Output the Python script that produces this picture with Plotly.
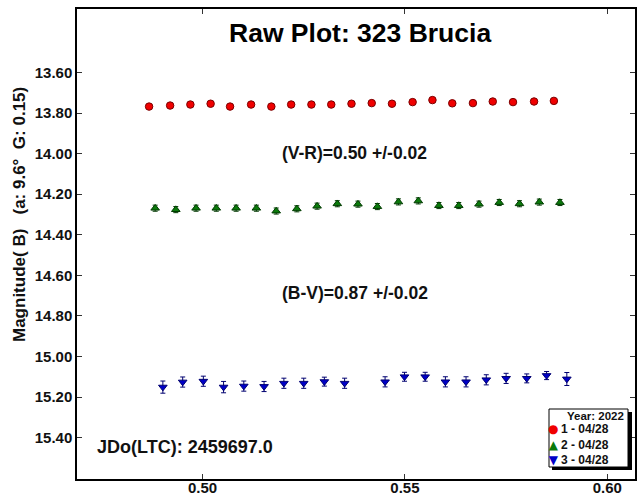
import plotly.graph_objects as go

# Canvas and plot-area geometry (pixels)
W, H = 642, 495
M_L, M_R, M_T, M_B = 77, 7, 9, 16
PW, PH = W - M_L - M_R, H - M_T - M_B


def px_x(x):
    return (x - M_L) / PW


def px_y(y):
    return (H - M_B - y) / PH


FONT = "Liberation Sans"

# Session 1 (red circles)
jd_1 = [0.4868, 0.4920, 0.4970, 0.5020, 0.5068, 0.5120, 0.5170, 0.5219, 0.5269, 0.5318, 0.5368,
        0.5418, 0.5468, 0.5519, 0.5568, 0.5617, 0.5668, 0.5717, 0.5767, 0.5819, 0.5868]
mag_1 = [13.768, 13.763, 13.758, 13.754, 13.768, 13.758, 13.768, 13.758, 13.758, 13.758, 13.754,
         13.751, 13.754, 13.746, 13.736, 13.752, 13.751, 13.743, 13.746, 13.743, 13.740]
err_1 = [0.010, 0.010, 0.010, 0.010, 0.010, 0.010, 0.010, 0.010, 0.010, 0.010, 0.010,
         0.010, 0.010, 0.010, 0.010, 0.010, 0.010, 0.010, 0.010, 0.010, 0.010]

# Session 2 (green up-triangles)
jd_2 = [0.4883, 0.4934, 0.4984, 0.5034, 0.5083, 0.5133, 0.5182, 0.5233, 0.5283, 0.5333, 0.5384,
        0.5432, 0.5484, 0.5533, 0.5584, 0.5633, 0.5683, 0.5733, 0.5783, 0.5832, 0.5883]
mag_2 = [14.269, 14.276, 14.269, 14.269, 14.269, 14.269, 14.283, 14.272, 14.259, 14.247, 14.249,
         14.261, 14.238, 14.233, 14.256, 14.256, 14.249, 14.241, 14.247, 14.239, 14.241]
err_2 = [0.015, 0.015, 0.015, 0.015, 0.015, 0.015, 0.015, 0.015, 0.015, 0.015, 0.015,
         0.015, 0.015, 0.015, 0.015, 0.015, 0.015, 0.015, 0.015, 0.015, 0.015]

# Session 3 (blue down-triangles)
jd_3 = [0.4902, 0.4951, 0.5002, 0.5052, 0.5102, 0.5152, 0.5201, 0.5250, 0.5301, 0.5351,
        0.5451, 0.5499, 0.5550, 0.5600, 0.5651, 0.5701, 0.5750, 0.5801, 0.5850, 0.5900]
mag_3 = [15.151, 15.126, 15.122, 15.151, 15.146, 15.148, 15.132, 15.132, 15.124, 15.132,
         15.125, 15.100, 15.100, 15.125, 15.125, 15.115, 15.108, 15.108, 15.094, 15.111]
err_3 = [0.030, 0.025, 0.025, 0.028, 0.025, 0.025, 0.025, 0.025, 0.022, 0.025,
         0.025, 0.022, 0.022, 0.025, 0.025, 0.025, 0.025, 0.022, 0.020, 0.032]

x_ticks = [0.50, 0.55, 0.60]
y_ticks = [13.60, 13.80, 14.00, 14.20, 14.40, 14.60, 14.80, 15.00, 15.20, 15.40]
x_range = [0.46899, 0.60684]
y_range = [15.604, 13.287]

series_names = ["1 - 04/28", "2 - 04/28", "3 - 04/28"]
series_fill = ["#f00000", "#0b7a0b", "#0000c8"]
series_edge = ["#7a0000", "#003a00", "#000070"]
series_symbol = ["circle", "triangle-up", "triangle-down"]
series_size = [7.5, 7.5, 7.5]
legend_glyph = ["\u25cf", "\u25b2", "\u25bc"]

fig = go.Figure()
for jd, mag, err, name, fc, ec, sym, sz in zip(
        [jd_1, jd_2, jd_3], [mag_1, mag_2, mag_3], [err_1, err_2, err_3],
        series_names, series_fill, series_edge, series_symbol, series_size):
    fig.add_trace(go.Scatter(
        x=jd, y=mag, mode="markers", name=name, showlegend=False,
        marker=dict(symbol=sym, size=sz, color=fc, line=dict(color=ec, width=1)),
        error_y=dict(type="data", array=err, visible=True, color=ec, thickness=1, width=2.5),
    ))

axis_common = dict(
    showgrid=False, zeroline=False, showline=True, linecolor="black", linewidth=1.5,
    mirror="ticks", ticks="inside", ticklen=5, tickwidth=1, tickcolor="#333333",
    automargin=False,
    tickfont=dict(family=FONT, size=15, color="#111111", weight="bold"),
)

fig.update_xaxes(range=x_range, tickvals=x_ticks, ticktext=[f"{v:.2f}" for v in x_ticks],
                 ticklabelstandoff=-6, **axis_common)
fig.update_yaxes(range=y_range, tickvals=y_ticks, ticktext=[f"{v:.2f}" for v in y_ticks], **axis_common)

legend_glyph_text = "<br>".join(
    f"<span style='color:{c}'>{g}</span>" for g, c in zip(legend_glyph, series_fill))

annotations = [
    dict(text="Raw Plot: 323 Brucia", x=px_x(360), y=px_y(33), xanchor="center", yanchor="middle",
         font=dict(family=FONT, size=26.5, color="black", weight="bold")),
    dict(text="(V-R)=0.50 +/-0.02", x=px_x(280), y=px_y(153), xanchor="left", yanchor="middle",
         font=dict(family=FONT, size=17.5, color="#111111", weight="bold")),
    dict(text="(B-V)=0.87 +/-0.02", x=px_x(280), y=px_y(293), xanchor="left", yanchor="middle",
         font=dict(family=FONT, size=17.5, color="#111111", weight="bold")),
    dict(text="JDo(LTC): 2459697.0", x=px_x(95), y=px_y(447), xanchor="left", yanchor="middle",
         font=dict(family=FONT, size=18, color="#111111", weight="bold")),
    dict(text="Magnitude( B)\u00a0\u00a0\u00a0(a: 9.6\u00b0\u00a0\u00a0G: 0.15)", x=px_x(20), y=px_y(215),
         xanchor="center", yanchor="middle", textangle=-90,
         font=dict(family=FONT, size=17, color="#111111", weight="bold")),
    dict(text="Year: 2022", x=px_x(626), y=px_y(416), xanchor="right", yanchor="middle",
         font=dict(family=FONT, size=11.5, color="#111111", weight="bold")),
    # legend entries: one block per column so the rows share a single line spacing
    dict(text=legend_glyph_text, x=px_x(553), y=px_y(444.5), xanchor="center", yanchor="middle",
         font=dict(family="DejaVu Sans", size=12, color="black")),
    dict(text="<br>".join(series_names), x=px_x(559), y=px_y(444.5), xanchor="left", yanchor="middle",
         align="left", font=dict(family=FONT, size=12, color="#111111", weight="bold")),
]

for a in annotations:
    a.update(xref="paper", yref="paper", showarrow=False)

shapes = [
    # legend drop shadow
    dict(type="rect", xref="paper", yref="paper", x0=px_x(552), x1=px_x(632), y0=px_y(470), y1=px_y(412),
         fillcolor="black", line=dict(width=0)),
    # legend box
    dict(type="rect", xref="paper", yref="paper", x0=px_x(549), x1=px_x(628), y0=px_y(467), y1=px_y(409),
         fillcolor="white", line=dict(color="black", width=1)),
]

fig.update_layout(
    width=W, height=H,
    margin=dict(l=M_L, r=M_R, t=M_T, b=M_B, pad=0),
    paper_bgcolor="white", plot_bgcolor="white",
    annotations=annotations, shapes=shapes,
    showlegend=False,
)

fig.write_html("out.html")
